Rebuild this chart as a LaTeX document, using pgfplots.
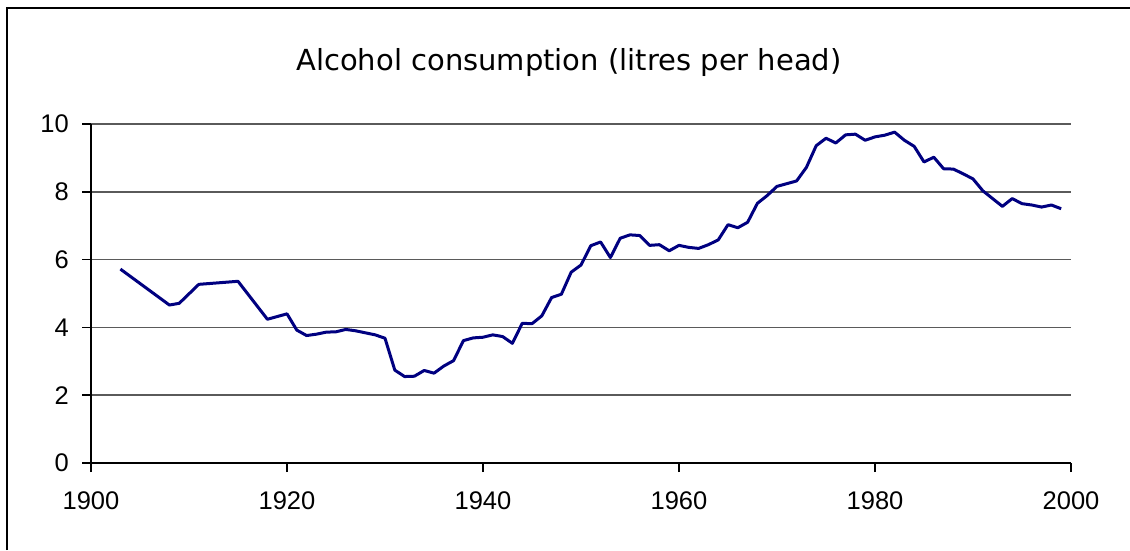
\documentclass[border=0pt]{standalone}
\usepackage{fontspec}
\setmainfont{Liberation Sans}
\newfontfamily\titlefont{DejaVu Sans}
\usepackage{pgfplots}
\pgfplotsset{compat=1.18}
\usepackage{pgfplotstable}
\definecolor{navyline}{RGB}{0,0,128}
\definecolor{gridgray}{RGB}{90,90,90}
\pgfplotstableread{
year value
1903 5.72
1908 4.66
1909 4.71
1911 5.27
1915 5.36
1918 4.24
1920 4.40
1921 3.92
1922 3.76
1923 3.80
1924 3.86
1925 3.87
1926 3.94
1927 3.90
1928 3.84
1929 3.78
1930 3.68
1931 2.74
1932 2.55
1933 2.56
1934 2.73
1935 2.65
1936 2.86
1937 3.02
1938 3.61
1939 3.69
1940 3.71
1941 3.78
1942 3.73
1943 3.53
1944 4.12
1945 4.11
1946 4.34
1947 4.88
1948 4.98
1949 5.63
1950 5.84
1951 6.41
1952 6.52
1953 6.06
1954 6.63
1955 6.73
1956 6.71
1957 6.42
1958 6.44
1959 6.26
1960 6.42
1961 6.36
1962 6.33
1963 6.44
1964 6.58
1965 7.03
1966 6.94
1967 7.10
1968 7.66
1969 7.89
1970 8.16
1971 8.24
1972 8.32
1973 8.72
1974 9.36
1975 9.58
1976 9.44
1977 9.68
1978 9.70
1979 9.52
1980 9.62
1981 9.67
1982 9.76
1983 9.52
1984 9.34
1985 8.88
1986 9.02
1987 8.68
1988 8.67
1989 8.53
1990 8.38
1991 8.03
1992 7.80
1993 7.57
1994 7.80
1995 7.65
1996 7.61
1997 7.55
1998 7.61
1999 7.50
}\alcohol
\begin{document}
\begin{tikzpicture}[x=1pt,y=1pt]
\useasboundingbox (0,0) rectangle (1130,550);
\draw[line width=1.6pt] (7,0) -- (7,542) -- (1130,542);
\node[font=\titlefont\fontsize{29}{34}\selectfont, inner sep=0pt] at (569,487) {Alcohol consumption (litres per head)};
\begin{axis}[
  at={(91pt,87pt)}, anchor=south west,
  scale only axis, width=980pt, height=339pt,
  xmin=1900, xmax=2000, ymin=0, ymax=10,
  xtick={1900,1920,...,2000}, ytick={0,2,...,10},
  axis lines*=left,
  axis line style={line width=1.5pt, black},
  tick align=outside,
  major tick length=9pt,
  tick style={line width=1.5pt, black},
  ymajorgrids,
  grid style={line width=1.7pt, gridgray},
  /pgf/number format/assume math mode=true,
  /pgf/number format/1000 sep={},
  tick label style={font=\fontsize{25.5}{30}\selectfont},
  yticklabel style={inner sep=0pt, anchor=east, xshift=-13pt},
  xticklabel style={inner sep=0pt, anchor=north, yshift=-19pt},
  clip=false,
]
\addplot[navyline, line width=3pt, line join=round] table[x=year, y=value] {\alcohol};
\end{axis}
\end{tikzpicture}
\end{document}
